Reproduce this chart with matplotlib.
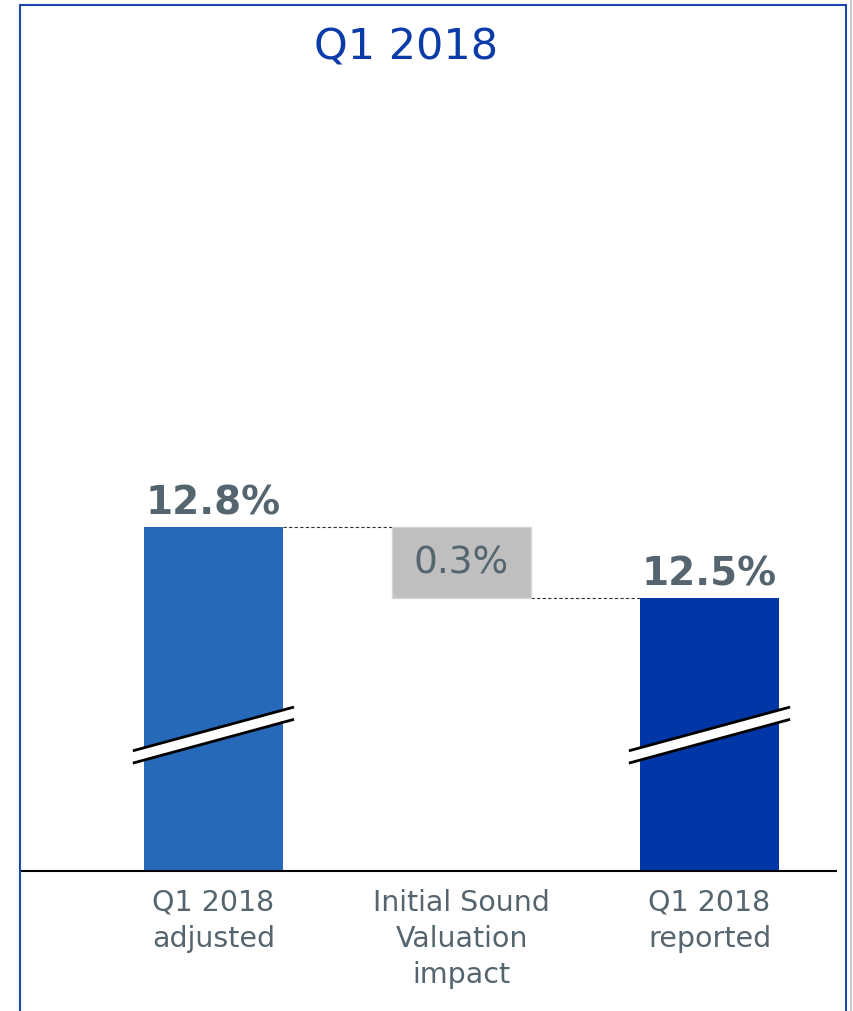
"""
Q1 2018 waterfall: adjusted -> Initial Sound Valuation impact -> reported.
Broken y axis (bars do not start at zero).
"""

import matplotlib
matplotlib.use("Agg")
import matplotlib.pyplot as plt
from matplotlib.patches import Polygon, Rectangle

plt.rcParams.update({
    "font.family": ["DejaVu Sans"],
    "axes.unicode_minus": False,
})

# ================================================================
# Data
# ================================================================
TITLE = "Q1 2018"
CATEGORIES = ["Q1 2018\nadjusted", "Initial Sound\nValuation\nimpact", "Q1 2018\nreported"]
START_VALUE = 12.8
IMPACT = 0.3
END_VALUE = 12.5
VALUE_LABELS = ["12.8%", "0.3%", "12.5%"]

# ================================================================
# Style
# ================================================================
C_ADJ = "#2769B9"
C_REP = "#0036A6"
C_GREY = "#BFBFBF"
C_TEXT = "#556570"
C_TITLE = "#0A3BA8"
C_FRAME = "#1C47AC"
BAR_W = 0.56
Y_MIN, Y_MAX = 11.347, 14.61
BREAK_LO, BREAK_HI = 11.855, 12.04   # left / right end of the upper break line
BREAK_GAP = 0.052

fig = plt.figure(figsize=(8.54, 10.12), dpi=100)
ax = fig.add_axes([20 / 854, 140 / 1012, 816 / 854, 772 / 1012])

x = list(range(len(CATEGORIES)))

# bars (bottom is clipped by the broken axis)
ax.bar(x[0], START_VALUE, width=BAR_W, color=C_ADJ, zorder=2)
ax.bar(x[2], END_VALUE, width=BAR_W, color=C_REP, zorder=2)
ax.bar(x[1], IMPACT, bottom=START_VALUE - IMPACT, width=BAR_W,
       color=C_GREY, edgecolor="#D6D6D6", linewidth=1, zorder=2)

# connectors
ax.plot([x[0] + BAR_W / 2, x[1] - BAR_W / 2], [START_VALUE, START_VALUE],
        ls=(0, (3, 2)), color="#333333", lw=0.8, zorder=1)
ax.plot([x[1] + BAR_W / 2, x[2] - BAR_W / 2], [END_VALUE, END_VALUE],
        ls=(0, (3, 2)), color="#333333", lw=0.8, zorder=1)

# value labels
ax.text(x[0], START_VALUE + 0.025, VALUE_LABELS[0], ha="center", va="bottom",
        fontsize=28, fontweight="bold", color=C_TEXT)
ax.text(x[2], END_VALUE + 0.025, VALUE_LABELS[2], ha="center", va="bottom",
        fontsize=28, fontweight="bold", color=C_TEXT)
ax.text(x[1], START_VALUE - IMPACT / 2, VALUE_LABELS[1], ha="center", va="center",
        fontsize=27, color=C_TEXT)

# axis break marks on the two full bars
ext = BAR_W / 2 + 0.045
for xi in (x[0], x[2]):
    xl, xr = xi - ext, xi + ext
    band = Polygon([(xl, BREAK_LO), (xr, BREAK_HI),
                    (xr, BREAK_HI - BREAK_GAP), (xl, BREAK_LO - BREAK_GAP)],
                   closed=True, facecolor="white", edgecolor="none", zorder=3)
    ax.add_patch(band)
    ax.plot([xl, xr], [BREAK_LO, BREAK_HI], color="black", lw=2, zorder=4,
            solid_capstyle="butt")
    ax.plot([xl, xr], [BREAK_LO - BREAK_GAP, BREAK_HI - BREAK_GAP],
            color="black", lw=2, zorder=4, solid_capstyle="butt")

ax.set_xlim(-0.78, 2.51)
ax.set_ylim(Y_MIN, Y_MAX)
ax.set_xticks(x)
ax.set_xticklabels(CATEGORIES, fontsize=20.5, color=C_TEXT, linespacing=1.38)
ax.tick_params(axis="x", length=0, pad=12)
ax.set_yticks([])
for side in ("top", "right", "left"):
    ax.spines[side].set_visible(False)
ax.spines["bottom"].set_color("black")
ax.spines["bottom"].set_linewidth(1.5)

# title and frame
fig.text(406 / 854, 1 - 48 / 1012, TITLE, ha="center", va="center",
         fontsize=31, color=C_TITLE)
fig.patches.append(Rectangle((20 / 854, -0.02), 826 / 854, 1.02 - 6 / 1012,
                             transform=fig.transFigure, fill=False,
                             edgecolor=C_FRAME, linewidth=1.5))
fig.add_artist(plt.Line2D([851 / 854, 851 / 854], [0, 1], color="#C8CCD6",
                          lw=1.5, transform=fig.transFigure))

fig.savefig("out.png", dpi=100)
